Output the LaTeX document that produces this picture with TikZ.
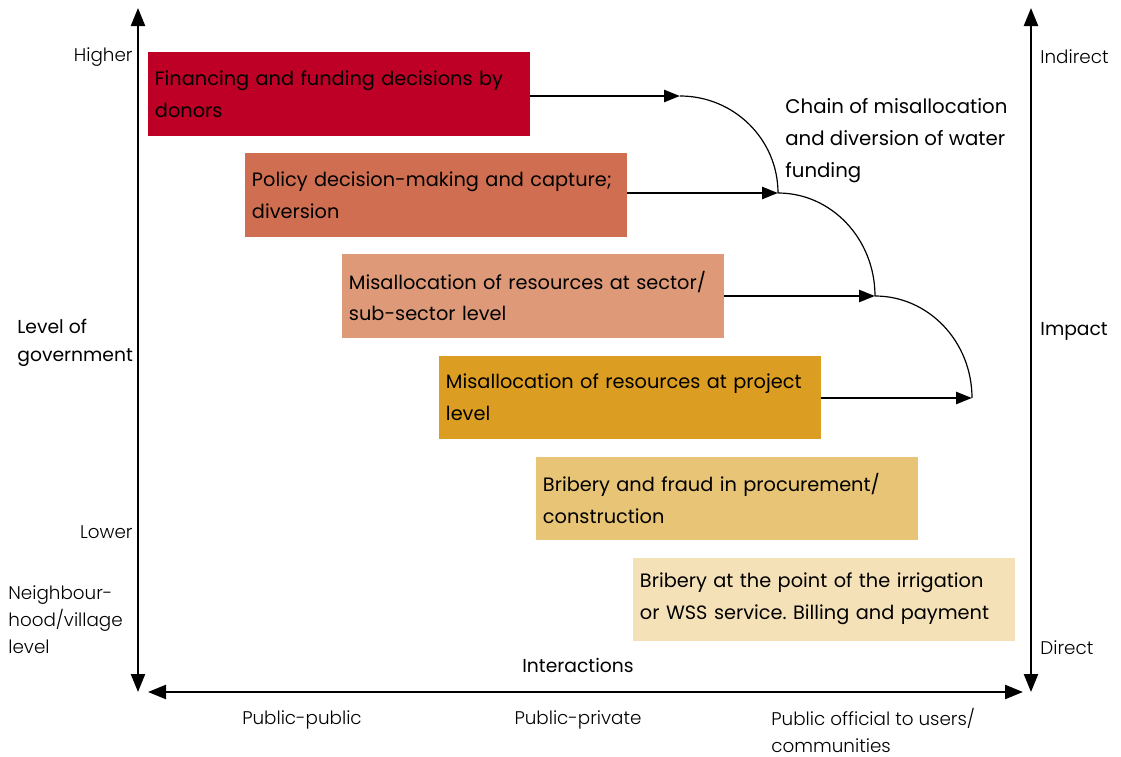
\documentclass[tikz,border=0pt]{standalone}
\usepackage{fontspec}
\setmainfont{Poppins}
\IfFontExistsTF{Poppins Light}{\newfontfamily\thinfont{Poppins Light}}{\newfontfamily\thinfont{Poppins}}
\usetikzlibrary{positioning}
\usetikzlibrary{arrows.meta}

\definecolor{donorred}{HTML}{BE0026}
\definecolor{policyred}{HTML}{D06E51}
\definecolor{sectorpink}{HTML}{DE9A78}
\definecolor{projectochre}{HTML}{DC9E22}
\definecolor{procuresand}{HTML}{E8C476}
\definecolor{servicecream}{HTML}{F5E1B7}

\hyphenpenalty=10000
\exhyphenpenalty=10000
\frenchspacing

\begin{document}
\begin{tikzpicture} [
  x=0.5bp, y=-0.5bp,
  stage/.style={fill=#1, text width=184bp, inner xsep=3.5bp, inner ysep=0pt,
    minimum height=41.5bp, align=left, font=\fontsize{9.7}{16}\selectfont},
  axis/.style={line width=1.2bp, {Triangle[length=9bp,width=7bp]}-{Triangle[length=9bp,width=7bp]}},
  flow/.style={line width=1.3bp, -{Triangle[length=8bp,width=6bp]}},
  chain/.style={line width=0.6bp},
  scale label/.style={font=\thinfont\fontsize{9.2}{13.5}\selectfont, inner sep=0pt, align=left},
  axis label/.style={font=\fontsize{9.4}{14}\selectfont, inner sep=0pt, align=left}
  ]
  \useasboundingbox (0,0) rectangle (1121,757);

  % axes
  \coordinate (ltop) at (138,8);
  \coordinate (lbot) at (138,692);
  \coordinate (rtop) at (1031,8);
  \coordinate (rbot) at (1031,692);
  \coordinate (hleft) at (148,692);
  \coordinate (hright) at (1023,692);
  \draw[axis] (lbot) -- (ltop);
  \draw[axis] (rbot) -- (rtop);
  \draw[axis] (hleft) -- (hright);

  % the six stages, stepping down and to the right
  \node [stage=donorred] (s1) at (339,94) {Financing and funding decisions by\\donors};
  \node [stage=policyred] (s2) at (436,195) {Policy decision-making and capture;\\diversion};
  \node [stage=sectorpink] (s3) at (533,296) {Misallocation of resources at sector/\\sub-sector level};
  \node [stage=projectochre] (s4) at (630,397) {Misallocation of resources at project\\level};
  \node [stage=procuresand] (s5) at (727,498.5) {Bribery and fraud in procurement/\\construction};
  \node [stage=servicecream] (s6) at (824,599) {Bribery at the point of the irrigation\\or WSS service. Billing and payment};

  % chain arrows and arcs
  \coordinate (c1) at (680,96);
  \coordinate (c2) at (778,193);
  \coordinate (c3) at (875,296);
  \coordinate (c4) at (972,398);
  \draw[flow] (s1.east |- c1) -- (c1);
  \draw[flow] (s2.east |- c2) -- (c2);
  \draw[flow] (s3.east |- c3) -- (c3);
  \draw[flow] (s4.east |- c4) -- (c4);
  \draw[chain] (c1) arc[start angle=-90, end angle=0, x radius=98, y radius=97];
  \draw[chain] (c2) arc[start angle=-90, end angle=0, x radius=97, y radius=103];
  \draw[chain] (c3) arc[start angle=-90, end angle=0, x radius=97, y radius=102];

  \node [anchor=north west, font=\fontsize{9.9}{16}\selectfont, inner sep=0pt, align=left]
    (chainlbl) at (785,98) {Chain of misallocation\\and diversion of water\\funding};

  % left scale
  \node [scale label, anchor=east] (higher) at (133,57) {Higher};
  \node [scale label, anchor=east] (lower) at (133,532) {Lower};
  \node [axis label, anchor=west] (govt) at (17,343) {Level of\\government};
  \node [scale label, anchor=west] (village) at (8,620) {Neighbour-\\hood/village\\level};

  % right scale
  \node [scale label, anchor=west] (indirect) at (1040,57) {Indirect};
  \node [axis label, anchor=west] (impact) at (1040,331) {Impact};
  \node [scale label, anchor=west] (direct) at (1040,648) {Direct};

  % bottom scale
  \node [axis label] (interact) at (578,665) {Interactions};
  \node [scale label] (pubpub) at (302,720) {Public-public};
  \node [scale label] (pubpriv) at (578,720) {Public-private};
  \node [scale label, anchor=north west] (pubuser) at (771,708) {Public official to users/\\communities};
\end{tikzpicture}
\end{document}
